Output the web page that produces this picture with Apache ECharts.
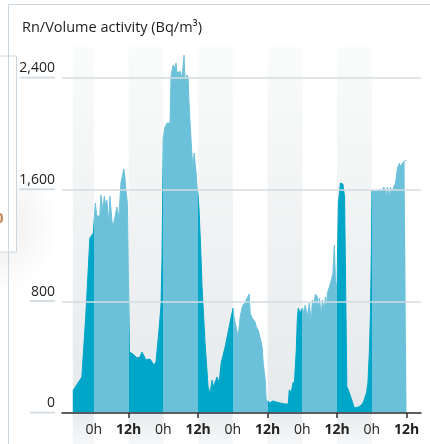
<!DOCTYPE html>
<html>
<head>
<meta charset="utf-8">
<title>Rn/Volume activity</title>
<style>
  html, body { margin: 0; padding: 0; background: #fff; }
  #main { width: 430px; height: 444px; }
</style>
<script src="https://cdn.jsdelivr.net/npm/echarts@6/dist/echarts.min.js"></script>
</head>
<body>
<div id="main"></div>
<script>
// hours counted from the first midnight, radon activity in Bq/m3
var hours = [
  -7.27, -4.15, -2.77, -1.38, -0.17,
  0.52, 1.04, 2.08, 2.42, 3.12, 3.63, 4.15, 4.5, 5.19, 5.54, 6.23, 6.58, 7.27, 7.96, 8.65, 9.35, 10.38, 10.73, 11.08, 11.6,
  12.29, 13.5, 14.88, 15.92, 16.62, 17.31, 18.0, 19.38, 20.77, 21.46, 22.5, 23.19, 23.54, 23.99,
  24.58, 25.27, 26.31, 26.65, 27.35, 28.04, 28.38, 28.73, 29.42, 29.77, 30.46, 30.81, 31.15, 31.5, 32.19, 32.54, 32.88, 33.23, 33.92, 34.27, 34.62, 35.31, 35.65, 36.0,
  36.35, 36.86, 37.38, 38.42, 39.46, 40.15, 40.85, 41.19, 41.88, 42.58, 43.27, 43.96, 45.35, 46.73, 47.42, 48.12,
  48.46, 49.15, 49.85, 50.54, 51.23, 52.27, 52.96, 53.65, 54.0, 54.69, 55.73, 56.08, 56.77, 57.46, 58.15, 58.5, 59.19, 59.54, 59.88,
  60.23, 60.92, 61.62, 62.31, 63.0, 64.38, 66.12, 67.15, 67.5, 68.19, 68.88, 69.23, 69.92, 70.27, 70.62, 71.31, 72.0,
  72.35, 73.04, 73.73, 74.42, 75.12, 75.46, 75.98, 76.5, 77.19, 77.54, 77.88, 78.58, 78.92, 79.62, 79.96, 80.31, 80.65, 81.35, 82.04, 82.56, 83.08, 83.6, 84.0,
  84.46, 85.15, 86.02, 86.6, 87.39, 87.92, 90.0, 91.38, 92.42, 93.12, 94.15, 94.67, 95.19, 95.54, 95.88,
  96.05, 96.57, 97.61, 98.99, 99.69, 100.03, 100.73, 101.07, 101.42, 102.11, 102.46, 102.81, 103.5, 104.19, 104.88, 105.58, 105.92, 106.61, 107.31, 108.0
];
var activity = [
  158, 258, 700, 1253, 1289,
  1504, 1411, 1411, 1561, 1454, 1554, 1475, 1525, 1361, 1554, 1382, 1325, 1404, 1475, 1404, 1647, 1748, 1690, 1597, 1500,
  437, 423, 394, 401, 437, 451, 380, 387, 344, 365, 594, 773, 1100, 1970,
  2048, 2077, 2077, 2406, 2492, 2471, 2507, 2435, 2421, 2449, 2399, 2478, 2564, 2385, 2421, 2406, 2220, 2084, 1834, 1762, 1862, 1726, 1619, 1561,
  1450, 1200, 900, 500, 186, 143, 236, 186, 222, 258, 215, 358, 473, 616, 688, 752,
  680, 616, 544, 688, 759, 795, 823, 852, 716, 680, 652, 616, 594, 537, 473, 358, 236, 93, 79,
  79, 72, 86, 100, 79, 72, 64, 64, 165, 150, 222, 200, 451, 666, 752, 716, 752,
  716, 773, 688, 788, 645, 809, 760, 852, 831, 730, 823, 700, 809, 740, 831, 745, 859, 902, 953, 1000, 1203, 850, 950,
  1500, 1647, 1640, 1550, 188, 165, 36, 43, 57, 79, 143, 215, 451, 716, 1200,
  1592, 1600, 1590, 1604, 1583, 1619, 1597, 1547, 1619, 1547, 1619, 1583, 1611, 1647, 1755, 1790, 1762, 1790, 1805, 1812
];
var tickHours = [0, 12, 24, 36, 48, 60, 72, 84, 96, 108];
var nightStart = [-7.27, 12, 36, 60, 84];
var nightEnd = [0, 24, 48, 72, 96];
var yStep = 800;

var dayColor = '#6cc1da';
var nightColor = '#00a6c8';
var fontFamily = "'Open Sans', sans-serif";

var myChart = echarts.init(document.getElementById('main'));

var seriesData = hours.map(function (h, i) { return [h, activity[i]]; });

// 12h -> 0h is night (dark), 0h -> 12h day (light)
var pieces = [{ lt: 0, color: nightColor }];
tickHours.forEach(function (h, i) {
  var p = { gte: h, color: (i % 2 === 0) ? dayColor : nightColor };
  if (i < tickHours.length - 1) p.lt = tickHours[i + 1];
  pieces.push(p);
});

var bands = nightStart.map(function (s, i) { return [{ xAxis: s }, { xAxis: nightEnd[i] }]; });

// small picture used as label background = underline under the y labels
function underline(h) {
  var c = document.createElement('canvas');
  c.width = 4; c.height = h;
  var ctx = c.getContext('2d');
  ctx.fillStyle = '#d3dbe0';
  ctx.fillRect(0, h - 2, 4, 2);
  return c;
}
var ulImg = underline(19);

var option = {
  animation: false,
  textStyle: { fontFamily: fontFamily },
  title: {
    text: 'Rn/Volume activity (Bq/m³)',
    left: 22,
    top: 20,
    padding: 0,
    textStyle: { fontFamily: fontFamily, fontSize: 14.5, fontWeight: 'normal', color: '#1e1e1e' }
  },
  grid: [
    { left: 62, right: 9, top: 47, bottom: 31, outerBoundsMode: 'none' },
    { left: 62, right: 9, top: 413, bottom: 0, outerBoundsMode: 'none' }
  ],
  xAxis: [
    {
      type: 'value', gridIndex: 0, min: -11, max: 113, z: 10,
      splitLine: { show: false },
      axisLine: { show: true, lineStyle: { color: '#333', width: 1.5 } },
      axisTick: {
        show: true, length: 5, lineStyle: { color: '#333', width: 1.5 },
        customValues: tickHours.filter(function (h) { return h % 24 === 12; })
      },
      axisLabel: {
        margin: 10,
        customValues: tickHours,
        formatter: function (v) { return v % 24 === 0 ? '{n|0h}' : '{b|12h}'; },
        rich: {
          n: { fontSize: 14, color: '#222', fontFamily: fontFamily },
          b: { fontSize: 14, color: '#222', fontWeight: 'bold', fontFamily: fontFamily }
        }
      }
    },
    {
      type: 'value', gridIndex: 1, min: -11, max: 113, position: 'top',
      splitLine: { show: false },
      axisLine: { show: false },
      axisLabel: { show: false },
      axisTick: {
        show: true, inside: true, length: 5, lineStyle: { color: '#c4c9cc', width: 1.5 },
        customValues: tickHours.filter(function (h) { return h % 24 === 0; })
      }
    }
  ],
  yAxis: [
    {
      type: 'value', gridIndex: 0, min: 0, max: 2622, interval: yStep, z: 10,
      axisLine: { show: false },
      axisTick: { show: false },
      splitLine: { show: true, showMaxLine: false, lineStyle: { color: '#d3dbe0', width: 1.5 } },
      axisLabel: {
        showMaxLabel: false,
        margin: 7,
        verticalAlign: 'bottom',
        formatter: function (v) {
          var s = v.toLocaleString('en-US');
          return v < 1000 ? '{s|' + s + '}' : '{u|' + s + '}';
        },
        rich: {
          u: { fontSize: 14, lineHeight: 16, padding: [0, 0, 3, 0], color: '#222', fontFamily: fontFamily,
               backgroundColor: { image: ulImg } },
          s: { fontSize: 14, lineHeight: 16, padding: [0, 0, 3, 0], color: '#222', fontFamily: fontFamily,
               width: 25, align: 'right', backgroundColor: { image: ulImg } }
        }
      }
    },
    { type: 'value', gridIndex: 1, min: 0, max: 1, show: false, splitLine: { show: false } }
  ],
  visualMap: {
    show: false,
    type: 'piecewise',
    seriesIndex: 2,
    dimension: 0,
    pieces: pieces
  },
  series: [
    {
      // night bands behind the data
      type: 'line', xAxisIndex: 0, yAxisIndex: 0, z: 1, data: [], silent: true,
      markArea: {
        silent: true,
        itemStyle: {
          color: { type: 'linear', x: 0, y: 0, x2: 0, y2: 1,
            colorStops: [{ offset: 0, color: '#fafbfb' }, { offset: 1, color: '#e6e9eb' }] }
        },
        data: bands
      }
    },
    {
      // night bands under the axis, fading out
      type: 'line', xAxisIndex: 1, yAxisIndex: 1, z: 1, data: [], silent: true,
      markArea: {
        silent: true,
        itemStyle: {
          color: { type: 'linear', x: 0, y: 0, x2: 0, y2: 1,
            colorStops: [{ offset: 0, color: '#e8ebed' }, { offset: 1, color: '#f6f7f8' }] }
        },
        data: bands
      }
    },
    {
      name: 'Rn',
      type: 'line', xAxisIndex: 0, yAxisIndex: 0, z: 3,
      showSymbol: false,
      lineStyle: { width: 1 },
      areaStyle: { opacity: 1 },
      data: seriesData
    }
  ],
  // frame pieces of the surrounding page
  graphic: [
    { type: 'circle', shape: { cx: -10, cy: 225, r: 70 }, silent: true, z: -1,
      style: { fill: { type: 'radial', x: 0.5, y: 0.5, r: 0.5,
        colorStops: [{ offset: 0, color: 'rgba(0,0,0,0.08)' }, { offset: 1, color: 'rgba(0,0,0,0)' }] } } },
    { type: 'rect', shape: { x: -2, y: 56, width: 18.5, height: 196 }, silent: true,
      style: { fill: '#fff', stroke: '#cbd6de', lineWidth: 1 } },
    { type: 'text', x: -5, y: 211, silent: true,
      style: { text: '0', fontSize: 15, fontWeight: 'bold', fill: '#c98a55', fontFamily: fontFamily } },
    { type: 'line', shape: { x1: 8.5, y1: 4, x2: 8.5, y2: 444 }, silent: true,
      style: { stroke: '#cbd6de', lineWidth: 1 } },
    { type: 'line', shape: { x1: 8, y1: 4.5, x2: 430, y2: 4.5 }, silent: true,
      style: { stroke: '#cbd6de', lineWidth: 1 } }
  ]
};

myChart.setOption(option);
</script>
</body>
</html>
